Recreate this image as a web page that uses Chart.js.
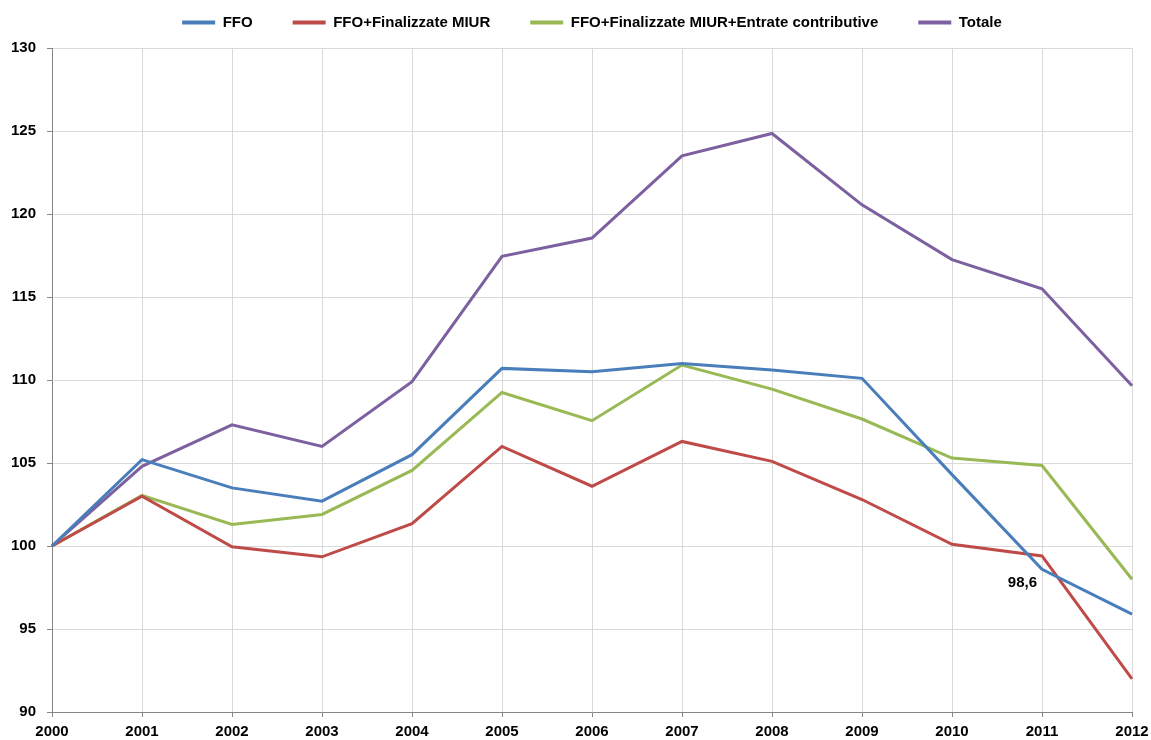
<!DOCTYPE html>
<html>
<head>
<meta charset="utf-8">
<script src="https://cdn.jsdelivr.net/npm/chart.js@4/dist/chart.umd.min.js"></script>
<style>
  html, body { margin: 0; padding: 0; background: #fff; }
  #box { width: 1151px; height: 740px; }
</style>
</head>
<body>
<div id="box"><canvas id="grafica"></canvas></div>
<script>
// dati (indice, 2000 = 100)
const anni = ["2000","2001","2002","2003","2004","2005","2006","2007","2008","2009","2010","2011","2012"];
const ffo = [100, 105.2, 103.5, 102.7, 105.5, 110.7, 110.5, 111.0, 110.6, 110.1, 104.3, 98.6, 95.9];
const ffoMiur = [100, 103.0, 99.95, 99.35, 101.35, 106.0, 103.6, 106.3, 105.1, 102.8, 100.1, 99.4, 92.0];
const ffoMiurEntrate = [100, 103.05, 101.3, 101.9, 104.55, 109.25, 107.55, 110.9, 109.45, 107.65, 105.3, 104.85, 98.0];
const totale = [100, 104.8, 107.3, 106.0, 109.9, 117.45, 118.55, 123.5, 124.85, 120.55, 117.25, 115.5, 109.65];
const yTicks = [90, 95, 100, 105, 110, 115, 120, 125, 130];

const font = '"Liberation Sans", Arial, sans-serif';
const ctx = document.getElementById("grafica").getContext("2d");

// etichetta del valore 2011 della serie FFO
const etichetta = {
  id: "etichetta",
  afterDatasetsDraw(chart) {
    const p = chart.getDatasetMeta(0).data[11];
    const c = chart.ctx;
    c.save();
    c.font = "bold 15px " + font;
    c.fillStyle = "#000";
    c.textAlign = "right";
    c.textBaseline = "middle";
    c.fillText("98,6", p.x - 5, p.y + 14);
    c.restore();
  }
};

// legenda: altezza fissa e spostata in alto (il padding delle etichette vale anche in verticale)
const legendaFissa = {
  id: "legendaFissa",
  beforeLayout(chart) {
    const lg = chart.legend;
    if (lg && !lg._fix) {
      const fit = lg.fit;
      lg.fit = function () { fit.call(this); this.height = 48; };
      lg._fix = true;
    }
  },
  beforeDraw(chart) {
    if (chart.legend) chart.legend.top = -25;
  }
};

const serie = (label, data, color) => ({
  label, data,
  borderColor: color, backgroundColor: color,
  borderWidth: 3, pointRadius: 0, tension: 0
});

new Chart(ctx, {
  type: "line",
  data: {
    labels: anni,
    datasets: [
      serie("FFO", ffo, "#4A7EBB"),
      serie("FFO+Finalizzate MIUR", ffoMiur, "#BE4B48"),
      serie("FFO+Finalizzate MIUR+Entrate contributive", ffoMiurEntrate, "#98B954"),
      serie("Totale", totale, "#7D60A0")
    ]
  },
  options: {
    responsive: true,
    maintainAspectRatio: false,
    animation: false,
    layout: { padding: { left: 0, right: 19, top: 0, bottom: 0 } },
    plugins: {
      tooltip: { enabled: false },
      legend: {
        position: "top",
        fullSize: false,
        labels: {
          boxWidth: 33,
          boxHeight: 4,
          padding: 40,
          color: "#000",
          font: { family: font, size: 15, weight: "bold" },
          generateLabels: (chart) =>
            Chart.defaults.plugins.legend.labels.generateLabels(chart).map(l => ({ ...l, lineWidth: 0 }))
        }
      }
    },
    scales: {
      x: {
        type: "category",
        offset: false,
        grid: { color: "#d9d9d9", tickColor: "#868686", tickLength: 5 },
        border: { color: "#868686" },
        ticks: { color: "#000", padding: 6, maxRotation: 0, font: { family: font, size: 15, weight: "bold" } },
        afterFit: (s) => { s.height = 28; s.paddingRight = 0; s.paddingLeft = 0; }
      },
      y: {
        min: 90, max: 130,
        afterBuildTicks: (s) => { s.ticks = yTicks.map(v => ({ value: v })); },
        grid: { color: "#d9d9d9", tickColor: "#868686", tickLength: 5 },
        border: { color: "#868686" },
        ticks: { color: "#000", padding: 11, font: { family: font, size: 15, weight: "bold" } },
        afterFit: (s) => { s.width = 52; }
      }
    }
  },
  plugins: [etichetta, legendaFissa]
});
</script>
</body>
</html>
